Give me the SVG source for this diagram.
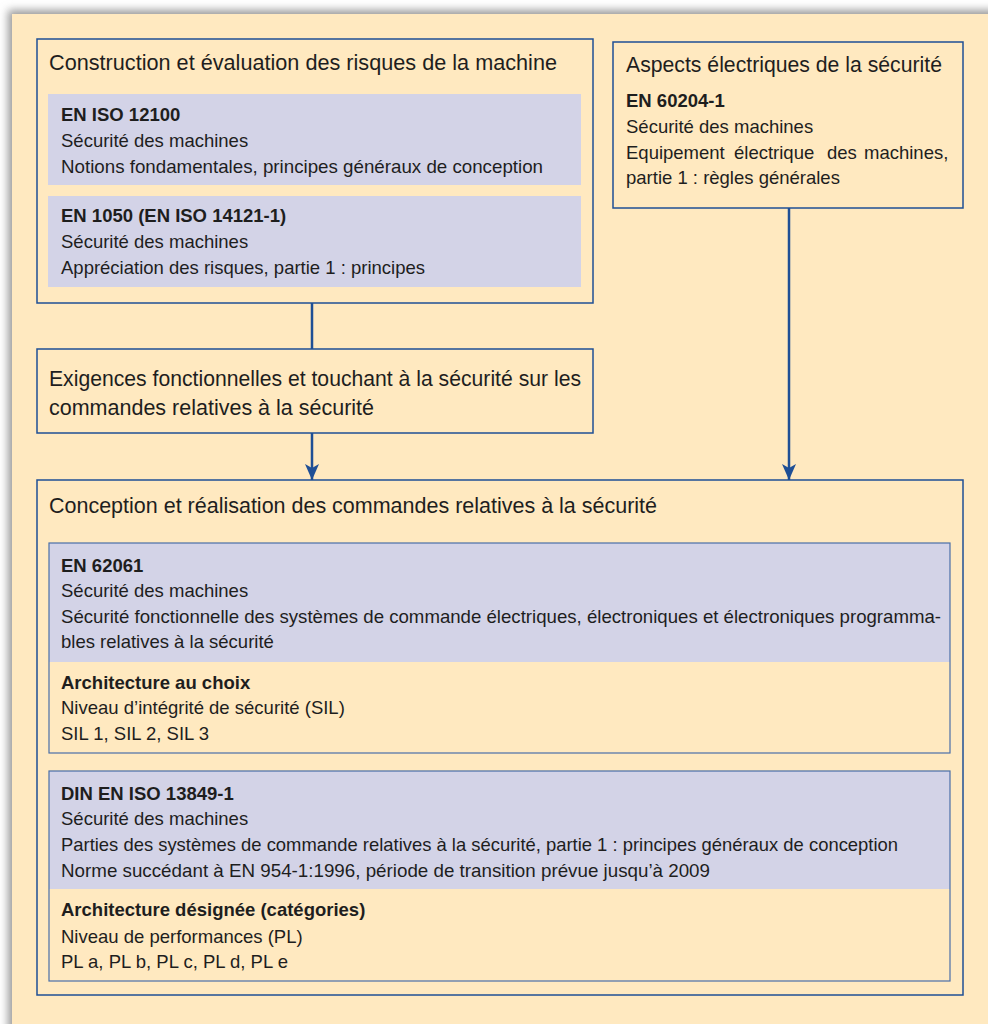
<svg xmlns="http://www.w3.org/2000/svg" width="988" height="1024" viewBox="0 0 988 1024">
<defs>
<style>
.box{fill:#FFE9C0;stroke:#1F4F95;stroke-width:1.5}
.blue{fill:#D3D3E7}
.ibox{fill:none;stroke:#4A6FA8;stroke-width:1.2}
.t{font-family:"Liberation Sans","DejaVu Sans",sans-serif;fill:#1E1E1E}
.h{font-size:21.5px}
.b{font-size:18.5px;font-weight:bold}
.n{font-size:18.5px}
.con{stroke:#1F4F95;stroke-width:2.5;fill:none}
</style>
<marker id="arr" markerWidth="16" markerHeight="14" refX="16" refY="7" orient="auto" markerUnits="userSpaceOnUse" viewBox="0 0 16 14">
<path d="M0,0 L16,7 L0,14 L4,7 Z" fill="#1F4F95"/>
</marker>
<filter id="sh" x="-5%" y="-5%" width="110%" height="110%">
<feGaussianBlur stdDeviation="4"/>
</filter>
</defs>
<rect width="988" height="1024" fill="#FFFFFF"/>
<rect x="8" y="10" width="990" height="1030" fill="#9A9A9A" filter="url(#sh)"/>
<rect x="12" y="14" width="976" height="1010" fill="#FFE9C0"/>

<g id="connectors">
<line class="con" x1="312" y1="303" x2="312" y2="350"/>
<line class="con" x1="312" y1="433" x2="312" y2="480" marker-end="url(#arr)"/>
<line class="con" x1="789" y1="208" x2="789" y2="480" marker-end="url(#arr)"/>
</g>

<g id="node-construction">
<rect class="box" x="37" y="39" width="556" height="264"/>
<text class="t h" x="49" y="70" textLength="508" lengthAdjust="spacingAndGlyphs">Construction et évaluation des risques de la machine</text>
<rect class="blue" x="48" y="94" width="533" height="91"/>
<text class="t b" x="61" y="121">EN ISO 12100</text>
<text class="t n" x="61" y="147">Sécurité des machines</text>
<text class="t n" x="61" y="173" textLength="482" lengthAdjust="spacingAndGlyphs">Notions fondamentales, principes généraux de conception</text>
<rect class="blue" x="48" y="196" width="533" height="91"/>
<text class="t b" x="61" y="222">EN 1050 (EN ISO 14121-1)</text>
<text class="t n" x="61" y="248">Sécurité des machines</text>
<text class="t n" x="61" y="274">Appréciation des risques, partie 1 : principes</text>
</g>

<g id="node-aspects">
<rect class="box" x="613" y="42" width="350" height="166"/>
<text class="t h" x="626" y="72" textLength="316" lengthAdjust="spacingAndGlyphs">Aspects électriques de la sécurité</text>
<text class="t b" x="626" y="107">EN 60204-1</text>
<text class="t n" x="626" y="133">Sécurité des machines</text>
<text class="t n" y="159"><tspan x="626">Equipement</tspan><tspan x="734">électrique</tspan><tspan x="827">des</tspan><tspan x="864">machines,</tspan></text>
<text class="t n" x="626" y="184">partie 1 : règles générales</text>
</g>

<g id="node-exigences">
<rect class="box" x="37" y="349" width="556" height="84"/>
<text class="t h" x="49" y="386" textLength="532" lengthAdjust="spacingAndGlyphs">Exigences fonctionnelles et touchant à la sécurité sur les</text>
<text class="t h" x="49" y="415">commandes relatives à la sécurité</text>
</g>

<g id="node-conception">
<rect class="box" x="37" y="480" width="926" height="515"/>
<text class="t h" x="49" y="513" textLength="608" lengthAdjust="spacingAndGlyphs">Conception et réalisation des commandes relatives à la sécurité</text>
<rect class="blue" x="49" y="543" width="901" height="119"/>
<rect class="ibox" x="49" y="543" width="901" height="210"/>
<text class="t b" x="61" y="572">EN 62061</text>
<text class="t n" x="61" y="597">Sécurité des machines</text>
<text class="t n" x="61" y="623" textLength="880" lengthAdjust="spacingAndGlyphs">Sécurité fonctionnelle des systèmes de commande électriques, électroniques et électroniques programma-</text>
<text class="t n" x="61" y="648">bles relatives à la sécurité</text>
<text class="t b" x="61" y="689">Architecture au choix</text>
<text class="t n" x="61" y="714">Niveau d’intégrité de sécurité (SIL)</text>
<text class="t n" x="61" y="740">SIL 1, SIL 2, SIL 3</text>

<rect class="blue" x="49" y="771" width="901" height="118"/>
<rect class="ibox" x="49" y="771" width="901" height="210"/>
<text class="t b" x="61" y="800">DIN EN ISO 13849-1</text>
<text class="t n" x="61" y="825">Sécurité des machines</text>
<text class="t n" x="61" y="851" textLength="837" lengthAdjust="spacingAndGlyphs">Parties des systèmes de commande relatives à la sécurité, partie 1 : principes généraux de conception</text>
<text class="t n" x="61" y="877" textLength="649" lengthAdjust="spacingAndGlyphs">Norme succédant à EN 954-1:1996, période de transition prévue jusqu’à 2009</text>
<text class="t b" x="61" y="916">Architecture désignée (catégories)</text>
<text class="t n" x="61" y="943">Niveau de performances (PL)</text>
<text class="t n" x="61" y="968">PL a, PL b, PL c, PL d, PL e</text>
</g>
</svg>
